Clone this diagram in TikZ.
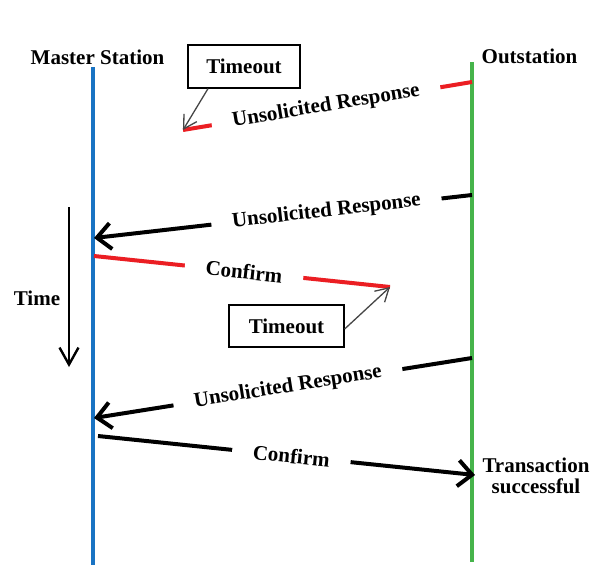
\documentclass[tikz,border=0pt]{standalone}
\usepackage{fontspec}
\setmainfont{Liberation Serif}
\usetikzlibrary{arrows.meta}
\definecolor{mblue}{RGB}{25,115,195}
\definecolor{ogreen}{RGB}{70,180,75}
\definecolor{lred}{RGB}{235,30,35}
\definecolor{tgray}{RGB}{70,70,70}
\begin{document}
\begin{tikzpicture}[x=1pt,y=-1pt,
  lbl/.style={font=\fontsize{21}{21.5}\selectfont\bfseries, text=black, inner sep=0pt},
  msg/.style={lbl, sloped, fill=white, inner xsep=21pt, inner ysep=1pt},
  life/.style={line width=3.2pt},
  sig/.style={line width=4pt},
  head/.style={-{Straight Barb[length=14pt,width=26pt]}},
  pointer/.style={tgray, line width=1.3pt, -{Straight Barb[length=13pt,width=15pt]}},
  tbox/.style={lbl, draw, line width=1.3pt, minimum width=112pt, minimum height=43pt}
]
\useasboundingbox (0,0) rectangle (595,565);
\fill[white] (0,0) rectangle (595,565);

% headers
\node[lbl, anchor=base] (ms) at (97.5,64) {Master Station};
\node[lbl, anchor=base] (os) at (529.5,63) {Outstation};

% lifelines
\coordinate (mtop) at (93,67); \coordinate (mbot) at (93,565);
\coordinate (otop) at (472,62); \coordinate (obot) at (472,562);
\draw[life, mblue] (mtop) -- (mbot);
\draw[life, ogreen] (otop) -- (obot);

% messages
\coordinate (a1) at (472,82); \coordinate (b1) at (183,130);
\draw[sig, lred] (a1) -- node[msg, pos=0.505] {Unsolicited Response} (b1);

\coordinate (a2) at (472,195); \coordinate (b2) at (94,238);
\draw[sig, head] (a2) -- node[msg, pos=0.385] {Unsolicited Response} (b2);

\coordinate (a3) at (94,256); \coordinate (b3) at (390,287);
\draw[sig, lred] (a3) -- node[msg, pos=0.507] {Confirm} (b3);

\coordinate (a4) at (472,358); \coordinate (b4) at (94,418);
\draw[sig, head] (a4) -- node[msg, pos=0.487] {Unsolicited Response} (b4);

\coordinate (a5) at (98,436); \coordinate (b5) at (475,475);
\draw[sig, head] (a5) -- node[msg, pos=0.513] {Confirm} (b5);

% timeouts
\node[tbox] (t1) at (244,66.5) {Timeout};
\node[tbox, minimum width=115pt, minimum height=42pt] (t2) at (286.5,326) {Timeout};
\draw[pointer] ([xshift=-36pt]t1.south) -- (b1);
\draw[pointer] ([yshift=-3pt]t2.east) -- (b3);

% time axis
\node[lbl] (time) at (37,298) {Time};
\coordinate (ttop) at (69,207); \coordinate (tbot) at (69,367);
\draw[line width=2.4pt, -{Straight Barb[length=17pt,width=19pt]}] (ttop) -- (tbot);

% result
\node[lbl, align=center] (ts) at (536,476) {Transaction\\successful};
\end{tikzpicture}
\end{document}
